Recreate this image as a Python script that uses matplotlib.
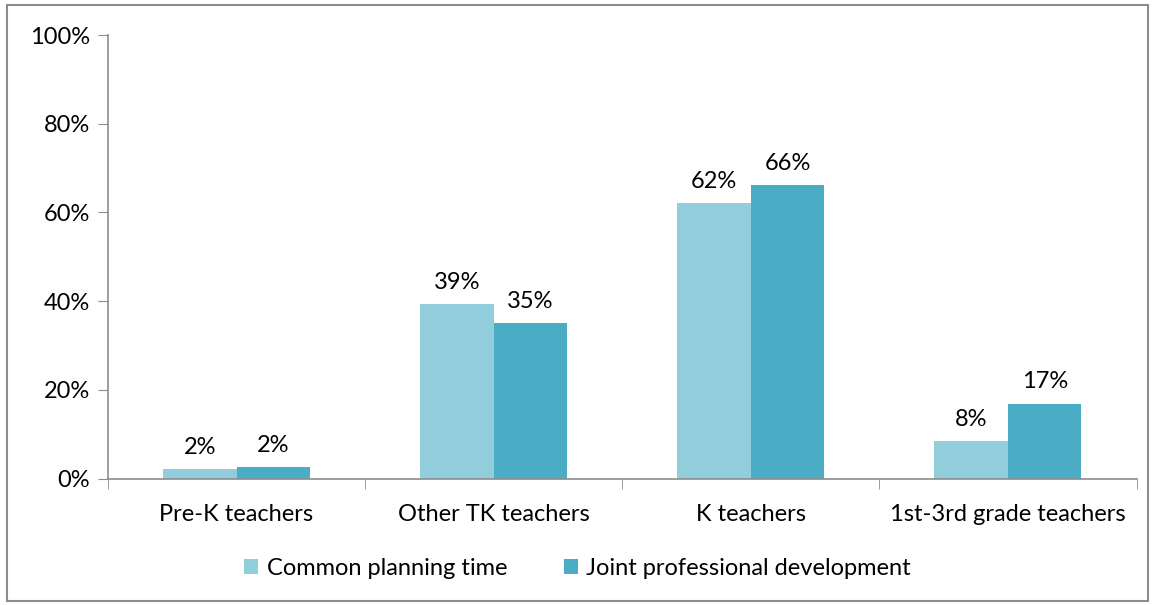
import numpy as np
import matplotlib.pyplot as plt
from matplotlib.patches import Rectangle

# teacher groups and the share of each reporting the activity
groups = ["Pre-K teachers", "Other TK teachers", "K teachers", "1st-3rd grade teachers"]
planning = [2.2, 39.3, 62.1, 8.4]
joint_pd = [2.5, 35.1, 66.1, 16.9]
series_names = ["Common planning time", "Joint professional development"]
colors = ["#92CDDC", "#4BACC6"]
yticks = [0, 20, 40, 60, 80, 100]

plt.rcParams['font.family'] = ['Lato', 'DejaVu Sans']
FS = 17

fig = plt.figure(figsize=(11.55, 6.05), dpi=100)
ax = fig.add_axes([0.0935, 0.209, 0.8905, 0.733])

x = np.arange(len(groups))
w = 0.286
bars1 = ax.bar(x - w / 2, planning, w, color=colors[0], label=series_names[0])
bars2 = ax.bar(x + w / 2, joint_pd, w, color=colors[1], label=series_names[1])

for bars in (bars1, bars2):
    for b in bars:
        ax.annotate(f"{b.get_height():.0f}%", (b.get_x() + b.get_width() / 2, b.get_height()),
                    xytext=(0, 8), textcoords="offset points", ha="center", va="bottom",
                    fontsize=FS)

ax.set_xlim(-0.5, len(groups) - 0.5)
ax.set_ylim(0, 100)
ax.set_yticks(yticks)
ax.set_yticklabels([f"{t}%" for t in yticks], fontsize=FS)
ax.set_xticks(x)
ax.set_xticklabels(groups, fontsize=FS)
ax.set_xticks(np.arange(-0.5, len(groups)), minor=True)
ax.tick_params(axis="x", which="major", length=0, pad=18)
ax.tick_params(axis="x", which="minor", length=7, color="#8c8c8c")
ax.tick_params(axis="y", length=7, color="#8c8c8c", pad=6)

for s in ("top", "right"):
    ax.spines[s].set_visible(False)
for s in ("left", "bottom"):
    ax.spines[s].set_color("#8c8c8c")
    ax.spines[s].set_linewidth(1.2)

fig.legend(loc="center", bbox_to_anchor=(0.5, 0.06), ncol=2, frameon=False,
           fontsize=FS, handlelength=0.6, handleheight=0.6, handletextpad=0.35,
           columnspacing=2.4)

# thin frame around the whole figure
fig.patches.append(Rectangle((0.006, 0.006), 0.988, 0.986, transform=fig.transFigure,
                             fill=False, edgecolor="#8c8c8c", linewidth=1.5))

fig.savefig("out.png", dpi=100)
